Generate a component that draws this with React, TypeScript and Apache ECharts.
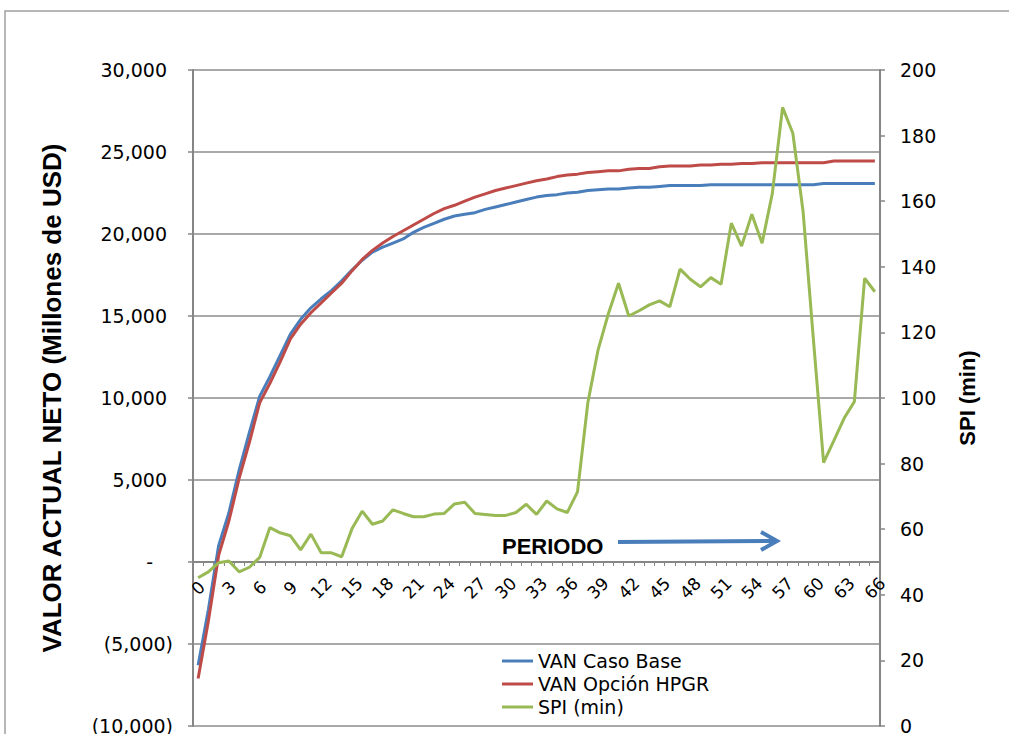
import React, { useEffect, useRef } from 'react';
import * as echarts from 'echarts';

const periods = [
  '0', '1', '2', '3', '4', '5', '6', '7', '8', '9', '10', '11', '12', '13', '14', '15', '16', '17', '18', '19',
  '20', '21', '22', '23', '24', '25', '26', '27', '28', '29', '30', '31', '32', '33', '34', '35', '36', '37', '38', '39',
  '40', '41', '42', '43', '44', '45', '46', '47', '48', '49', '50', '51', '52', '53', '54', '55', '56', '57', '58', '59',
  '60', '61', '62', '63', '64', '65', '66',
];

const vanCasoBase = [
  -6300, -2900, 1000, 3000, 5600, 7900, 10100, 11300, 12600, 13900,
  14800, 15500, 16050, 16550, 17150, 17800, 18400, 18900, 19200, 19450,
  19700, 20100, 20400, 20650, 20900, 21100, 21200, 21300, 21500, 21650,
  21800, 21950, 22100, 22250, 22350, 22400, 22500, 22550, 22650, 22700,
  22750, 22750, 22800, 22850, 22850, 22900, 22950, 22950, 22950, 22950,
  23000, 23000, 23000, 23000, 23000, 23000, 23000, 23000, 23000, 23000,
  23000, 23080, 23080, 23080, 23080, 23080, 23080,
];

const vanOpcionHPGR = [
  -7100, -3600, 400, 2500, 5100, 7300, 9700, 10900, 12200, 13600,
  14500, 15200, 15800, 16400, 17000, 17750, 18450, 19000, 19450, 19850,
  20200, 20550, 20900, 21250, 21550, 21750, 22000, 22250, 22450, 22650,
  22800, 22950, 23100, 23250, 23350, 23500, 23600, 23650, 23750, 23800,
  23850, 23850, 23950, 24000, 24000, 24100, 24150, 24150, 24150, 24200,
  24200, 24250, 24250, 24300, 24300, 24350, 24350, 24350, 24350, 24350,
  24350, 24350, 24450, 24450, 24450, 24450, 24450,
];

const spiMin = [
  45.2, 47.0, 49.8, 50.3, 47.0, 48.4, 51.4, 60.5, 58.9, 58.0,
  53.7, 58.5, 52.8, 52.8, 51.6, 60.1, 65.5, 61.5, 62.5, 65.9,
  64.8, 63.8, 63.8, 64.6, 64.8, 67.7, 68.2, 64.8, 64.5, 64.2,
  64.2, 65.1, 67.6, 64.5, 68.6, 66.2, 65.1, 71.4, 98.4, 114.6,
  125.6, 135.0, 125.0, 126.6, 128.4, 129.6, 127.8, 139.3, 136.2, 133.9,
  136.7, 134.7, 153.3, 146.3, 156.0, 147.2, 162.4, 188.6, 180.7, 156.8,
  118.0, 80.3, 87.0, 93.8, 98.9, 136.5, 132.4,
];

const seriesNames = ['VAN Caso Base', 'VAN Opción HPGR', 'SPI (min)'];
const seriesColors = ['#4A7EBB', '#BE4B48', '#98B954'];

const leftMin = -10000;
const leftMax = 30000;
const leftStep = 5000;
const rightMin = 0;
const rightMax = 200;
const rightStep = 20;

const fmtThousands = (v: number) =>
  Math.abs(v).toString().replace(/\B(?=(\d{3})+(?!\d))/g, ',');

export default function App() {
  const ref = useRef<HTMLDivElement>(null);

  useEffect(() => {
    if (!ref.current) return;
    const chart = echarts.init(ref.current, null, { renderer: 'svg' });
    const axisGray = '#868686';
    const tickFont = 'DejaVu Sans';

    const gridTop = 70;
    const gridBottom = 8;
    const plotHeight = 734 - gridTop - gridBottom;
    // move the category axis up to the zero line of the left value axis
    const zeroOffset = -plotHeight * (0 - leftMin) / (leftMax - leftMin);

    chart.setOption({
      animation: false,
      backgroundColor: '#ffffff',
      grid: {
        left: 193,
        right: 129,
        top: gridTop,
        bottom: gridBottom,
        containLabel: false,
        outerBoundsMode: 'none',
      },
      legend: {
        orient: 'vertical',
        left: 502,
        top: 651,
        padding: 0,
        itemWidth: 31,
        itemHeight: 3,
        itemGap: 3,
        data: seriesNames.map((n) => ({ name: n, icon: 'rect' })),
        textStyle: {
          fontFamily: tickFont,
          fontSize: 19,
          lineHeight: 20,
          color: '#000',
        },
      },
      xAxis: {
        type: 'category',
        data: periods,
        boundaryGap: true,
        position: 'bottom',
        offset: zeroOffset,
        axisLine: {
          onZero: false,
          lineStyle: { color: axisGray, width: 2 },
        },
        axisTick: { show: true, interval: 0, length: 4, lineStyle: { color: axisGray, width: 1 } },
        axisLabel: {
          interval: 2,
          rotate: 45,
          align: 'center',
          verticalAlign: 'middle',
          margin: 26,
          fontFamily: tickFont,
          fontSize: 17,
          color: '#000',
        },
        splitLine: { show: false },
      },
      yAxis: [
        {
          type: 'value',
          position: 'left',
          min: leftMin,
          max: leftMax,
          interval: leftStep,
          name: 'VALOR ACTUAL NETO (Millones de USD)',
          nameLocation: 'middle',
          nameGap: 128,
          nameTextStyle: {
            fontFamily: 'Liberation Sans',
            fontWeight: 'bold',
            fontSize: 26,
            color: '#000',
          },
          axisLine: { show: true, lineStyle: { color: axisGray, width: 2 } },
          axisTick: { show: true, length: 5, lineStyle: { color: axisGray, width: 1.5 } },
          axisLabel: {
            margin: 20,
            fontFamily: tickFont,
            fontSize: 19,
            color: '#000',
            formatter: (v: number) => {
              if (v === 0) return '{z|-}';
              if (v < 0) return '{n|(' + fmtThousands(v) + ')}';
              return '{p|' + fmtThousands(v) + '}';
            },
            rich: {
              z: { fontFamily: tickFont, fontSize: 19, color: '#000', padding: [0, 20, 0, 0] },
              n: { fontFamily: tickFont, fontSize: 19, color: '#000' },
              p: { fontFamily: tickFont, fontSize: 19, color: '#000', padding: [0, 6, 0, 0] },
            },
          },
          splitLine: { show: true, lineStyle: { color: '#8C8C8C', width: 1.5 } },
        },
        {
          type: 'value',
          position: 'right',
          min: rightMin,
          max: rightMax,
          interval: rightStep,
          name: 'SPI (min)',
          nameLocation: 'middle',
          nameGap: 76,
          nameTextStyle: {
            fontFamily: 'Liberation Sans',
            fontWeight: 'bold',
            fontSize: 22,
            color: '#000',
          },
          axisLine: { show: true, lineStyle: { color: axisGray, width: 2 } },
          axisTick: { show: true, length: 5, lineStyle: { color: axisGray, width: 1.5 } },
          axisLabel: {
            margin: 20,
            fontFamily: tickFont,
            fontSize: 19,
            color: '#000',
          },
          splitLine: { show: false },
        },
      ],
      graphic: [
        {
          type: 'rect',
          silent: true,
          shape: { x: 5, y: 11, width: 1100, height: 800 },
          style: { fill: 'none', stroke: '#A0A0A0', lineWidth: 1.5 },
          z: -10,
        },
        {
          type: 'text',
          x: 502,
          y: 546,
          style: {
            text: 'PERIODO',
            font: 'bold 22px "Liberation Sans", Arial, sans-serif',
            fill: '#000',
            verticalAlign: 'middle',
            align: 'left',
          },
        },
        {
          type: 'line',
          shape: { x1: 618, y1: 542, x2: 775, y2: 541 },
          style: { stroke: '#4A7EBB', lineWidth: 4 },
        },
        {
          type: 'polyline',
          shape: { points: [[761, 532], [777, 541], [761, 550]] },
          style: { stroke: '#4A7EBB', lineWidth: 4, fill: 'none' },
        },
      ],
      series: [
        {
          name: seriesNames[0],
          type: 'line',
          yAxisIndex: 0,
          data: vanCasoBase,
          symbol: 'none',
          lineStyle: { color: seriesColors[0], width: 3 },
          itemStyle: { color: seriesColors[0] },
        },
        {
          name: seriesNames[1],
          type: 'line',
          yAxisIndex: 0,
          data: vanOpcionHPGR,
          symbol: 'none',
          lineStyle: { color: seriesColors[1], width: 3 },
          itemStyle: { color: seriesColors[1] },
        },
        {
          name: seriesNames[2],
          type: 'line',
          yAxisIndex: 1,
          data: spiMin,
          symbol: 'none',
          lineStyle: { color: seriesColors[2], width: 3 },
          itemStyle: { color: seriesColors[2] },
        },
      ],
    });

    return () => chart.dispose();
  }, []);

  return (
    <div
      ref={ref}
      style={{ position: 'absolute', left: 0, top: 0, width: 1009, height: 734, background: '#fff' }}
    />
  );
}
